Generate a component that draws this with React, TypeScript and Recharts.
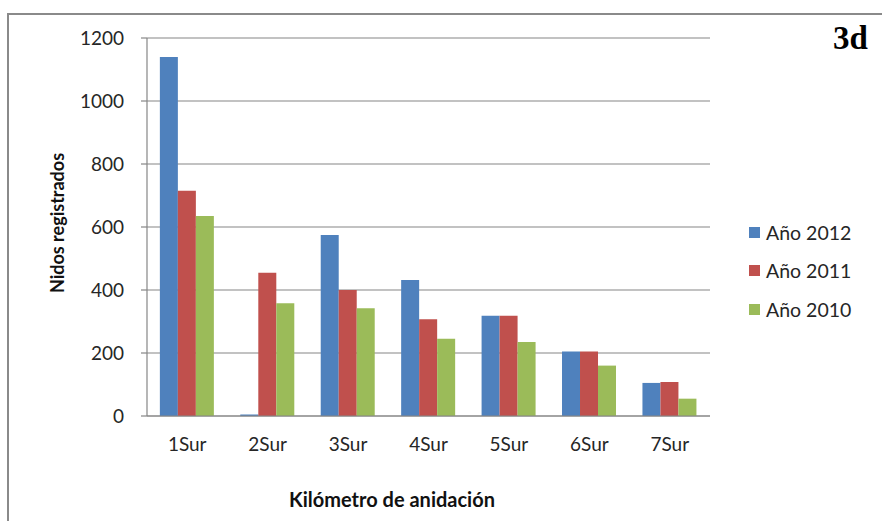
import React from 'react';
import { BarChart, Bar, XAxis, YAxis, CartesianGrid, Legend } from 'recharts';

const categories = ['1Sur', '2Sur', '3Sur', '4Sur', '5Sur', '6Sur', '7Sur'];
const serie2012 = [1140, 5, 575, 432, 318, 205, 105];
const serie2011 = [715, 455, 400, 307, 318, 205, 108];
const serie2010 = [635, 358, 342, 245, 235, 160, 55];
const yTicks = [0, 200, 400, 600, 800, 1000, 1200];
const seriesNames = ['Año 2012', 'Año 2011', 'Año 2010'];
const seriesColors = ['#4F81BD', '#C0504D', '#9BBB59'];

const data = categories.map((c, i) => ({
  cat: c,
  s2012: serie2012[i],
  s2011: serie2011[i],
  s2010: serie2010[i],
}));

const FONT = 'Lato, "Open Sans", sans-serif';

const LegendContent = () => (
  <div style={{ fontFamily: FONT, fontSize: 19.5, color: '#262626' }}>
    {seriesNames.map((n, i) => (
      <div key={n} style={{ display: 'flex', alignItems: 'center', height: 38.5 }}>
        <span style={{ width: 11, height: 11, background: seriesColors[i], display: 'inline-block', marginRight: 6 }} />
        <span>{n}</span>
      </div>
    ))}
  </div>
);

export default function App() {
  return (
    <div style={{ position: 'absolute', left: 0, top: 0, width: 882, height: 521, background: '#fff', overflow: 'hidden' }}>
      <div style={{ position: 'absolute', left: 7, top: 13, width: 900, height: 600, borderLeft: '2px solid #8a8a8a', borderTop: '2px solid #8a8a8a' }} />
      <div style={{ position: 'absolute', left: 833, top: 22, lineHeight: 1, fontFamily: '"Liberation Serif", "DejaVu Serif", serif', fontWeight: 'bold', fontSize: 33, color: '#000' }}>3d</div>
      <BarChart
        width={882}
        height={521}
        data={data}
        margin={{ top: 38, right: 52, left: 0, bottom: 0 }}
        barCategoryGap="16%"
        barGap={0}
        style={{ position: 'absolute', left: 0, top: 0 }}
      >
        <CartesianGrid horizontal vertical={false} stroke="#868686" strokeWidth={1.2} />
        <XAxis
          dataKey="cat"
          height={105}
          axisLine={{ stroke: '#868686', strokeWidth: 1.2 }}
          tickLine={false}
          tickSize={0}
          tickMargin={22}
          tick={{ fontFamily: FONT, fontSize: 19, fill: '#262626' }}
          label={{
            content: (props: any) => {
              const vb = props.viewBox || {};
              return (
                <text x={392} y={vb.y + 91} textAnchor="middle" fontFamily={FONT} fontWeight="bold" fontSize={20} fill="#111">
                  Kilómetro  de anidación
                </text>
              );
            },
          }}
        />
        <YAxis
          width={147}
          domain={[0, 1200]}
          ticks={yTicks}
          axisLine={{ stroke: '#868686', strokeWidth: 1.2 }}
          tickLine={{ stroke: '#868686', strokeWidth: 1.2 }}
          tickSize={6}
          tickMargin={17}
          tick={{ fontFamily: FONT, fontSize: 19, fill: '#262626' }}
          label={{
            content: (props: any) => {
              const vb = props.viewBox || {};
              const cy = vb.y + vb.height / 2 - 4;
              return (
                <text x={64} y={cy} transform={`rotate(-90, 64, ${cy})`} textAnchor="middle" fontFamily={FONT} fontWeight="bold" fontSize={18} fill="#111">
                  Nidos registrados
                </text>
              );
            },
          }}
        />
        <Legend
          layout="vertical"
          align="right"
          verticalAlign="top"
          content={<LegendContent />}
          wrapperStyle={{ left: 749, top: 213, width: 120 }}
        />
        <Bar dataKey="s2012" name={seriesNames[0]} fill={seriesColors[0]} isAnimationActive={false} />
        <Bar dataKey="s2011" name={seriesNames[1]} fill={seriesColors[1]} isAnimationActive={false} />
        <Bar dataKey="s2010" name={seriesNames[2]} fill={seriesColors[2]} isAnimationActive={false} />
      </BarChart>
    </div>
  );
}
